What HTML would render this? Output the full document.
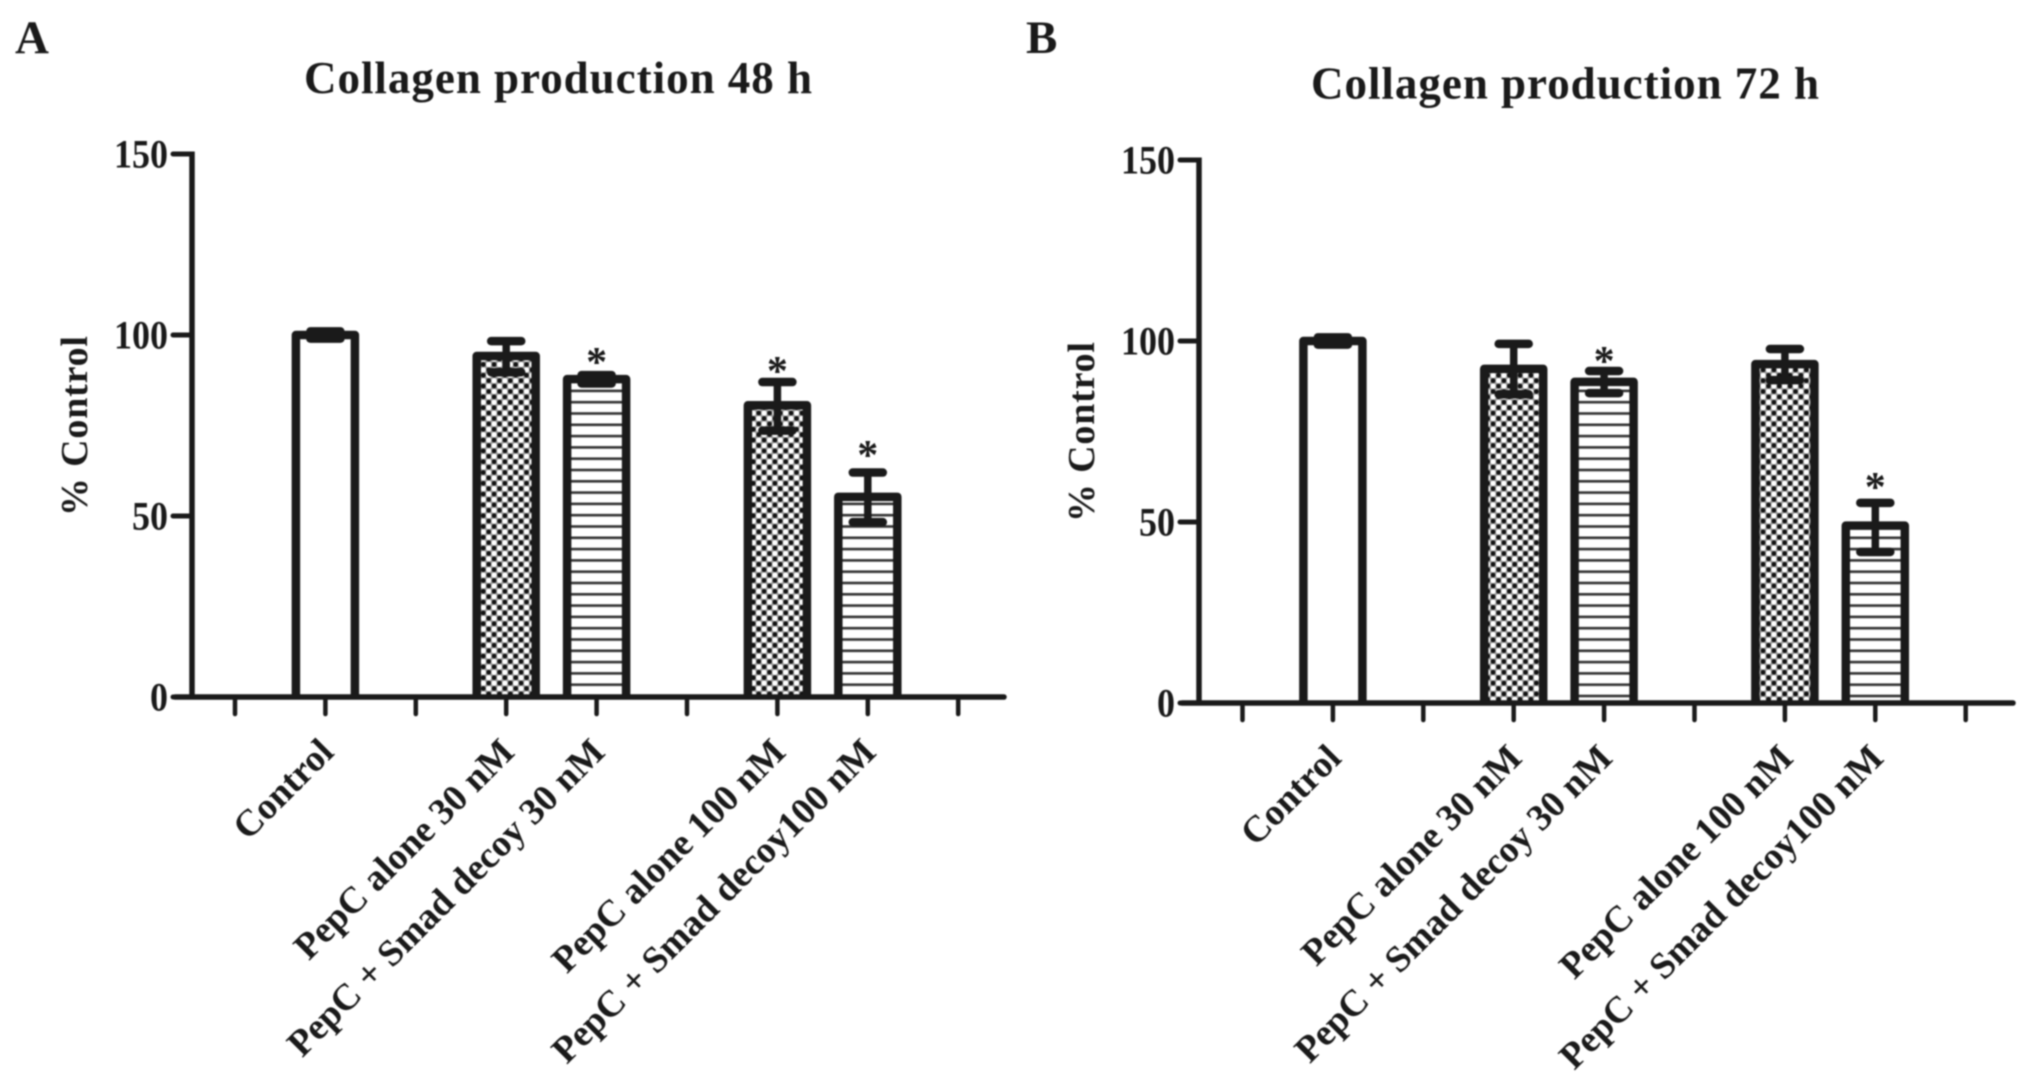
<!DOCTYPE html>
<html lang="en">
<head>
<meta charset="utf-8">
<title>Collagen production at 48 h and 72 h</title>
<style>
html,body{margin:0;padding:0;background:#fff;width:2031px;height:1085px;overflow:hidden}
svg{display:block;filter:blur(0.7px)}
text{font-family:"Liberation Serif",serif;font-weight:bold;fill:#1a1a1a}
</style>
</head>
<body>
<svg id="fig" xmlns="http://www.w3.org/2000/svg" width="2031" height="1085" viewBox="0 0 2031 1085">
  <defs>
    <pattern id="dots" patternUnits="userSpaceOnUse" width="10.8" height="10.8">
      <rect width="10.8" height="10.8" fill="#999"/>
      <circle cx="2.7" cy="2.7" r="2.4" fill="#111"/>
      <circle cx="8.1" cy="8.1" r="2.4" fill="#111"/>
      <circle cx="8.1" cy="2.7" r="2.7" fill="#fff"/>
      <circle cx="2.7" cy="8.1" r="2.7" fill="#fff"/>
    </pattern>
    <pattern id="hatch" patternUnits="userSpaceOnUse" width="20" height="11.3">
      <rect width="20" height="11.3" fill="#fff"/>
      <rect y="5.4" width="20" height="2.6" fill="#333"/>
    </pattern>
  </defs>
  <rect width="2031" height="1085" fill="#fff"/>
  <text x="15" y="53" font-size="47">A</text>
  <text x="1026" y="53" font-size="47">B</text>
  <text x="304" y="93" font-size="45" textLength="508" lengthAdjust="spacing">Collagen production 48 h</text>
  <text x="1311" y="98.5" font-size="45" textLength="508" lengthAdjust="spacing">Collagen production 72 h</text>
  <text transform="translate(87,516) rotate(-90)" font-size="38" textLength="180" lengthAdjust="spacing" xml:space="preserve">% Control</text>
  <text transform="translate(1094,522) rotate(-90)" font-size="38" textLength="180" lengthAdjust="spacing" xml:space="preserve">% Control</text>
  <g id="panel-a"></g>
  <g id="panel-b"></g>
</svg>
<script>
const categories = ['Control', 'PepC alone 30 nM', 'PepC + Smad decoy 30 nM', 'PepC alone 100 nM', 'PepC + Smad decoy100 nM'];
const categorySlots = [1, 3, 4, 6, 7];
const categoryFills = ['none', 'dots', 'hatch', 'dots', 'hatch'];
const slotCount = 9;
const yTicks = [0, 50, 100, 150];

const values48 = [100, 94.2, 87.8, 80.6, 55.3];
const upper48 = [101, 98.3, 88.9, 87, 62];
const lower48 = [99, 89.7, 86.6, 73.6, 48.3];
const stars48 = [null, null, 93.6, 91.2, 68];

const values72 = [100, 92.3, 88.7, 93.6, 49];
const upper72 = [101, 99.2, 91.7, 97.8, 55.3];
const lower72 = [99, 85.3, 85.6, 89.2, 41.7];
const stars72 = [null, null, 95.6, null, 60.8];

const NS = 'http://www.w3.org/2000/svg';
function mk(parent, tag, attrs) {
  const el = document.createElementNS(NS, tag);
  for (const k in attrs) el.setAttribute(k, attrs[k]);
  parent.appendChild(el);
  return el;
}

function drawPanel(root, axisX, axisY, firstTickX, axisEndX, values, upper, lower, stars) {
  const unit = 3.62;
  const step = 90.4;
  const y = v => axisY - v * unit;
  const x = s => firstTickX + s * step;
  const ink = '#1a1a1a';

  yTicks.forEach(t => {
    const tick = mk(root, 'line', {x1: axisX - 19, x2: axisX, y1: y(t), y2: y(t), stroke: ink, 'stroke-width': 5, 'stroke-linecap': 'round'});
    
    
    const lab = mk(root, 'text', {x: axisX - 24, y: y(t) + 13.5, 'font-size': 40, 'text-anchor': 'end', textLength: String(t).length * 18, lengthAdjust: 'spacingAndGlyphs'});
    lab.textContent = t;
    
    
  });

  categories.forEach((c, i) => {
    const cx = x(categorySlots[i]);
    const barW = 59;
    const left = cx - barW / 2;
    const top = y(values[i]);
    const fill = mk(root, 'rect', {
      x: left, y: top, width: barW, height: axisY - top,
      fill: categoryFills[i] === 'none' ? '#fff' : 'url(#' + categoryFills[i] + ')'
    });
    
    
    const bar = mk(root, 'path', {
      d: 'M' + left + ' ' + axisY + 'V' + top + 'H' + (left + barW) + 'V' + axisY,
      fill: 'none', stroke: ink, 'stroke-width': 8.5, 'stroke-linejoin': 'round'
    });
    
    

    const stem = mk(root, 'line', {x1: cx, x2: cx, y1: y(upper[i]), y2: y(lower[i]), stroke: ink, 'stroke-width': 7.5});
    
    
    [upper[i], lower[i]].forEach((v, j) => {
      const cap = mk(root, 'line', {x1: cx - 15, x2: cx + 15, y1: y(v), y2: y(v), stroke: ink, 'stroke-width': 8.5, 'stroke-linecap': 'round'});
      
      
    });

    if (stars[i] !== null) {
      const star = mk(root, 'text', {x: cx, y: y(stars[i]) + 18, 'font-size': 42, 'text-anchor': 'middle'});
      star.textContent = '*';
      
      
    }

    const lab = mk(root, 'text', {
      transform: 'translate(' + (cx + 10) + ',' + (axisY + 57) + ') rotate(-45)',
      'font-size': 37.3, 'text-anchor': 'end'
    });
    lab.textContent = c;
    
    
  });

  const yAxis = mk(root, 'line', {x1: axisX, x2: axisX, y1: y(150) - 2.5, y2: axisY, stroke: ink, 'stroke-width': 5.5});
  
  
  const xAxis = mk(root, 'line', {x1: axisX - 17, x2: axisEndX, y1: axisY, y2: axisY, stroke: ink, 'stroke-width': 5.5, 'stroke-linecap': 'round'});
  
  
  for (let s = 0; s < slotCount; s++) {
    const tick = mk(root, 'line', {x1: x(s), x2: x(s), y1: axisY, y2: axisY + 17, stroke: ink, 'stroke-width': 4.5, 'stroke-linecap': 'round'});
    
    
  }
}

drawPanel(document.getElementById('panel-a'), 192, 697, 235, 1004, values48, upper48, lower48, stars48);
drawPanel(document.getElementById('panel-b'), 1199, 703, 1242.5, 2013, values72, upper72, lower72, stars72);
</script>
</body>
</html>
